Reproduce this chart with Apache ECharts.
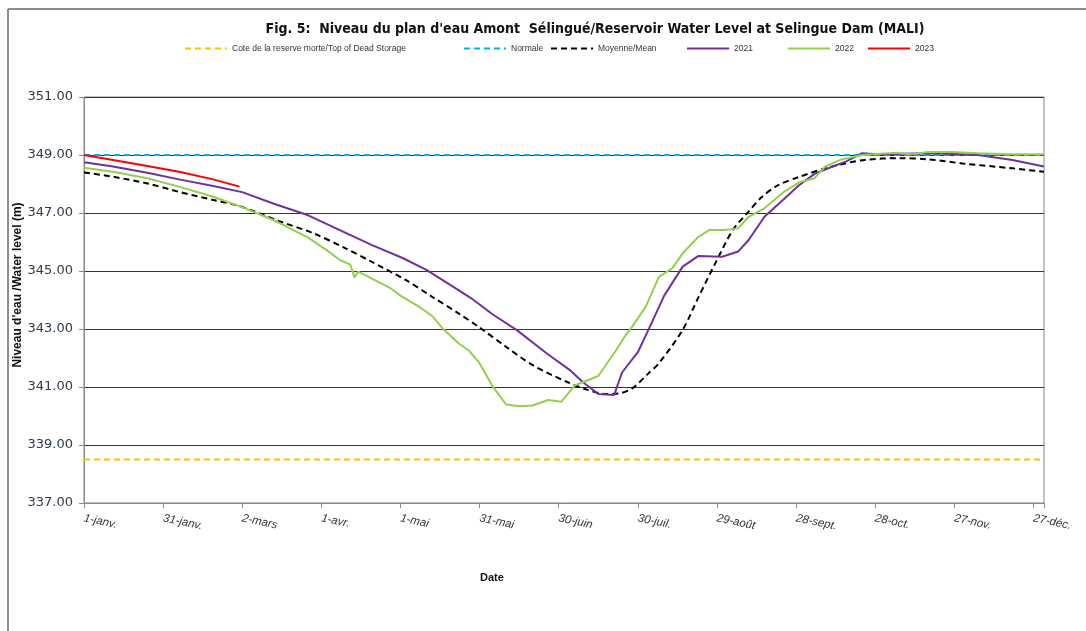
<!DOCTYPE html>
<html>
<head>
<meta charset="utf-8">
<script src="https://cdn.jsdelivr.net/npm/echarts@6/dist/echarts.min.js"></script>
<style>
html,body{margin:0;padding:0;background:#fff;}
#chart{width:1086px;height:631px;}
</style>
</head>
<body>
<div id="chart"></div>
<script>
// Tick labels (every 30 days from 1 January)
const tickLabels = ['1-janv.', '31-janv.', '2-mars', '1-avr.', '1-mai', '31-mai', '30-juin', '30-juil.', '29-août', '28-sept.', '28-oct.', '27-nov.', '27-déc.'];
const tickStep = 30;
const yearEnd = 364;

// Reference levels
const deadStorage = 338.5;
const normalLevel = 349.0;

// Mean (Moyenne/Mean) – day of year and level (m)
const meanDays = [0, 11, 24, 36, 49, 59, 74, 87, 99, 109, 122, 132, 142, 150, 160, 170, 183, 191, 198, 203, 208, 214, 218, 227, 233, 240, 246, 252, 257, 263, 271, 283, 296, 309, 320, 333, 352, 364];
const meanLevel = [348.40, 348.25, 348.02, 347.73, 347.45, 347.24, 346.72, 346.30, 345.79, 345.32, 344.69, 344.11, 343.54, 343.05, 342.39, 341.76, 341.18, 340.90, 340.76, 340.78, 340.96, 341.47, 341.82, 342.97, 344.10, 345.38, 346.41, 347.05, 347.55, 347.95, 348.24, 348.59, 348.83, 348.89, 348.85, 348.71, 348.54, 348.42];

// 2021
const days2021 = [0, 11, 24, 36, 49, 60, 72, 85, 97, 109, 121, 130, 142, 147, 155, 164, 176, 184, 189, 195, 201, 204, 210, 214, 220, 227, 233, 242, 248, 252, 258, 265, 271, 277, 281, 289, 295, 301, 320, 333, 339, 352, 364];
const level2021 = [348.75, 348.60, 348.39, 348.16, 347.93, 347.72, 347.32, 346.92, 346.41, 345.90, 345.44, 345.03, 344.34, 344.05, 343.50, 342.97, 342.12, 341.60, 341.18, 340.76, 340.72, 341.50, 342.20, 342.97, 344.15, 345.15, 345.52, 345.49, 345.67, 346.07, 346.87, 347.45, 347.95, 348.35, 348.50, 348.78, 349.06, 349.03, 349.06, 349.03, 349.00, 348.83, 348.60];

// 2022
const days2022 = [0, 11, 24, 36, 49, 60, 72, 85, 92, 97, 101, 102.5, 104, 116, 120, 127, 132, 136, 142, 146, 150, 155, 160, 165, 170, 176, 181, 186, 195, 202, 205, 208, 213, 218, 223, 227, 233, 237, 243, 248, 252, 258, 265, 271, 277, 281, 287, 295, 308, 314, 320, 329, 339, 352, 364];
const level2022 = [348.56, 348.42, 348.20, 347.91, 347.56, 347.20, 346.75, 346.15, 345.72, 345.38, 345.22, 344.78, 344.98, 344.42, 344.15, 343.77, 343.45, 343.02, 342.51, 342.25, 341.82, 341.01, 340.40, 340.34, 340.36, 340.55, 340.49, 341.05, 341.38, 342.30, 342.74, 343.10, 343.77, 344.80, 345.09, 345.61, 346.18, 346.41, 346.41, 346.47, 346.87, 347.16, 347.70, 348.05, 348.20, 348.60, 348.84, 349.00, 349.08, 349.03, 349.10, 349.10, 349.06, 349.03, 349.03];

// 2023
const days2023 = [0, 11, 24, 36, 49, 59];
const level2023 = [349.00, 348.83, 348.62, 348.42, 348.16, 347.91];

const zip = (d, v) => d.map((x, i) => [x, v[i]]);

const names = ['Cote de la reserve morte/Top of Dead Storage', 'Normale', 'Moyenne/Mean', '2021', '2022', '2023'];
const legendX = [184, 463, 550, 686, 787, 867];

const chart = echarts.init(document.getElementById('chart'));
const legendText = {fontFamily: 'Liberation Sans', fontSize: 8.5, color: '#333'};

chart.setOption({
  animation: false,
  backgroundColor: '#fff',
  title: {
    text: "Fig. 5:  Niveau du plan d'eau Amont  Sélingué/Reservoir Water Level at Selingue Dam (MALI)",
    left: 590, top: 17, textAlign: 'center',
    textStyle: {fontFamily: 'DejaVu Sans Condensed, sans-serif', fontWeight: 'bold', fontSize: 14, color: '#111'}
  },
  legend: names.map((n, i) => ({
    data: [n], left: legendX[i], top: 44, itemWidth: 42, itemHeight: 8, itemGap: 4,
    textStyle: legendText, padding: 0, itemStyle: {opacity: 0}
  })),
  graphic: [
    {type: 'line', shape: {x1: 8, y1: 9, x2: 1086, y2: 9}, style: {stroke: '#8c8c8c', lineWidth: 2}},
    {type: 'line', shape: {x1: 8, y1: 9, x2: 8, y2: 631}, style: {stroke: '#8c8c8c', lineWidth: 2}},
    {type: 'text', left: 480, top: 572, style: {text: 'Date', fontFamily: 'Liberation Sans', fontWeight: 'bold', fontSize: 11, fill: '#111'}}
  ],
  grid: {left: 84, right: 42, top: 97, bottom: 128, show: true, borderColor: '#888', borderWidth: 1, outerBoundsMode: 'none', containLabel: false},
  xAxis: {
    type: 'value', min: 0, max: yearEnd, interval: tickStep,
    axisLine: {show: true, lineStyle: {color: '#888', width: 1}},
    axisTick: {show: true, length: 5, lineStyle: {color: '#888'}},
    splitLine: {show: false},
    axisLabel: {
      rotate: -12, margin: 15, fontStyle: 'italic', fontFamily: 'Liberation Sans', fontSize: 11.5, color: '#333',
      formatter: v => (v % tickStep === 0 && v / tickStep < tickLabels.length) ? tickLabels[v / tickStep] : ''
    }
  },
  yAxis: {
    type: 'value', min: 337, max: 351, interval: 2,
    name: "Niveau d'eau /Water level (m)", nameLocation: 'middle', nameGap: 60, nameRotate: 90, nameMoveOverlap: false,
    nameTextStyle: {fontFamily: 'Liberation Sans', fontWeight: 'bold', fontSize: 12, color: '#111', padding: [0, 0, 0, 30]},
    axisLine: {show: true, lineStyle: {color: '#888', width: 1}},
    axisTick: {show: true, length: 5, lineStyle: {color: '#888'}},
    splitLine: {show: true, lineStyle: {color: '#333', width: 1}},
    axisLabel: {margin: 11, fontFamily: 'DejaVu Sans', fontSize: 13, color: '#2f3a4a', formatter: v => v.toFixed(2)}
  },
  series: [
    {name: names[0], type: 'line', symbol: 'none', data: [[0, deadStorage], [yearEnd, deadStorage]],
      lineStyle: {color: '#FFC000', width: 2, type: [6, 4]}, itemStyle: {color: '#FFC000'}},
    {name: names[1], type: 'line', symbol: 'none', data: [[0, normalLevel], [yearEnd, normalLevel]],
      lineStyle: {color: '#00B0F0', width: 2, type: [6, 4]}, itemStyle: {color: '#00B0F0'}},
    {name: names[2], type: 'line', symbol: 'none', smooth: 0.3, data: zip(meanDays, meanLevel),
      lineStyle: {color: '#000', width: 2, type: [6, 4]}, itemStyle: {color: '#000'}},
    {name: names[3], type: 'line', symbol: 'none', data: zip(days2021, level2021),
      lineStyle: {color: '#7030A0', width: 2}, itemStyle: {color: '#7030A0'}},
    {name: names[4], type: 'line', symbol: 'none', data: zip(days2022, level2022),
      lineStyle: {color: '#92D050', width: 2}, itemStyle: {color: '#92D050'}},
    {name: names[5], type: 'line', symbol: 'none', data: zip(days2023, level2023),
      lineStyle: {color: '#FF0000', width: 2}, itemStyle: {color: '#FF0000'}}
  ]
});
</script>
</body>
</html>
